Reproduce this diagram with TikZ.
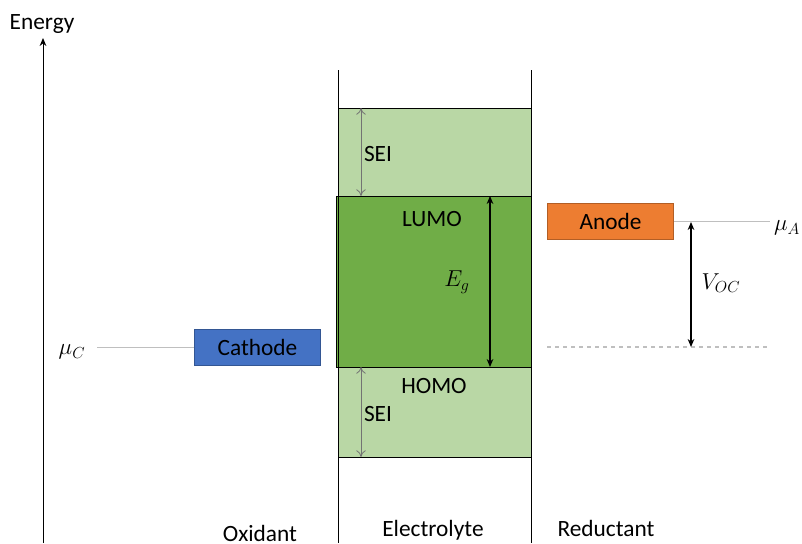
\documentclass[tikz,border=0pt]{standalone}
\usepackage{fontspec}
\setmainfont{Carlito}
\usetikzlibrary{arrows.meta}
\definecolor{seigreen}{HTML}{B9D7A5}
\definecolor{gapgreen}{HTML}{70AD47}
\definecolor{cathblue}{HTML}{4472C4}
\definecolor{anodeorange}{HTML}{ED7D31}
\tikzset{
  electrode/.style={minimum width=95pt, minimum height=27.5pt, inner sep=0pt, line width=0.6pt},
  level/.style={draw=black!25, line width=0.8pt},
  gaparrow/.style={{Stealth[length=6pt,width=5pt]}-{Stealth[length=6pt,width=5pt]}, line width=0.8pt},
  seiarrow/.style={draw=black!55, {To[length=5pt,width=7pt]}-{To[length=5pt,width=7pt]}, line width=0.6pt}
}
\begin{document}
\begin{tikzpicture}[x=0.75pt,y=-0.75pt,font=\fontsize{17.5}{21}\selectfont]
        \useasboundingbox (0,0) rectangle (802,543);
        % bands of the electrolyte
        \draw[fill=seigreen, line width=0.75pt] (338,108) rectangle (531,196);
        \draw[fill=gapgreen, line width=0.75pt] (336,196) rectangle (531,367);
        \draw[fill=seigreen, line width=0.75pt] (338,367) rectangle (531,457);
        \foreach \x in {338,531} {
            \draw[line width=0.75pt] (\x,70) -- (\x,543);
        }
        % energy axis
        \node (energy) at (42,24) {Energy};
        \coordinate (axisbot) at (43,543);
        \coordinate (axistop) at (43,38);
        \draw[-{Stealth[length=6pt,width=5pt]}, line width=0.75pt] (axisbot) -- (axistop);
        % SEI layers
        \foreach \a/\b/\name in {108/196/top,367/457/bot} {
            \coordinate (sei\name a) at (361,\a);
            \coordinate (sei\name b) at (361,\b);
            \draw[seiarrow] (sei\name a) -- (sei\name b);
            \node (sei\name) at (378,{(\a+\b)/2+2}) {SEI};
        }
        \node (lumo) at (432,219) {LUMO};
        \node (homo) at (434,386) {HOMO};
        \coordinate (gaptop) at (490,196);
        \coordinate (gapbot) at (490,367);
        \draw[gaparrow] (gaptop) -- (gapbot);
        \node (eg) at (457,282) {$E_g$};
        % cathode
        \node[electrode, fill=cathblue, draw=cathblue!75!black] (cathode) at (257.5,347.5) {Cathode};
        \node (muC) at (72,352) {$\mu_C$};
        \coordinate (muCline) at (97,347.5);
        \draw[level] (muCline) -- (cathode.west);
        % anode
        \node[electrode, fill=anodeorange, draw=anodeorange!75!black] (anode) at (610.5,221.5) {Anode};
        \node (muA) at (787,228) {$\mu_A$};
        \coordinate (muAline) at (770,221.5);
        \draw[level] (anode.east) -- (muAline);
        \coordinate (dashstart) at (547,347);
        \coordinate (dashend) at (768,347);
        \draw[level, dashed] (dashstart) -- (dashend);
        \coordinate (voctop) at (691,222);
        \coordinate (vocbot) at (691,347);
        \draw[gaparrow] (voctop) -- (vocbot);
        \node (voc) at (721,283) {$V_{OC}$};
        % regions
        \node (oxidant) at (260,533) {Oxidant};
        \node (electrolyte) at (433,530) {Electrolyte};
        \node (reductant) at (606,528) {Reductant};
    \end{tikzpicture}
\end{document}
